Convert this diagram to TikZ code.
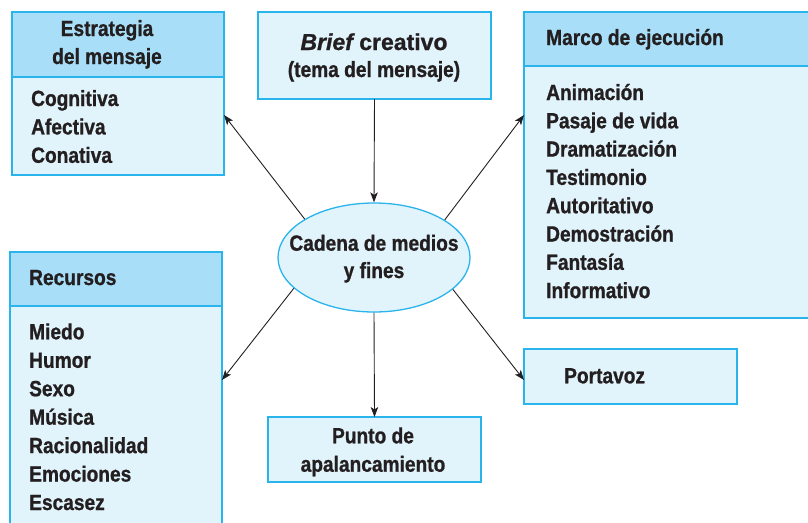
\documentclass[tikz,border=0pt]{standalone}
\usepackage{fontspec}
\setmainfont{Liberation Sans}[FakeStretch=0.87, BoldFeatures={FakeBold=0.9}, BoldItalicFeatures={FakeBold=0.9}]
\newfontfamily\widefont{Liberation Sans}[BoldFeatures={FakeBold=0.9}, BoldItalicFeatures={FakeBold=0.9}]
\usetikzlibrary{arrows.meta,shapes.geometric}
\definecolor{bord}{HTML}{2AB4EC}
\definecolor{headf}{HTML}{A8DEF8}
\definecolor{bodyf}{HTML}{E1F3FB}
\definecolor{ink}{HTML}{231F20}
\tikzset{
 panel/.style={draw=bord, line width=1.3pt, fill=bodyf, anchor=north west, inner sep=0pt, outer sep=0pt},
 headpanel/.style={panel, fill=headf},
 lbl/.style={text=ink, inner sep=0pt, anchor=base west},
 clbl/.style={text=ink, inner sep=0pt, anchor=base},
 conn/.style={draw=ink, line width=0.9pt, -{Stealth[length=10pt,width=7.5pt,inset=2.5pt]}},
}
\begin{document}
\begin{tikzpicture}[x=1pt,y=-1pt, font=\bfseries\fontsize{22}{24}\selectfont]
\useasboundingbox (0,0) rectangle (808,522);
% Estrategia
\node[panel, minimum width=212pt, minimum height=98pt] (estrb) at (12,77) {};
\node[headpanel, minimum width=212pt, minimum height=65pt] (estrh) at (12,12) {};
\node[clbl] (e1) at (107,36) {Estrategia};
\node[clbl] (e2) at (107,64) {del mensaje};
\foreach \t [count=\i] in {Cognitiva,Afectiva,Conativa}
  \node[lbl] (ei\i) at (31,{106+28.4*(\i-1)}) {\t};
% Brief
\node[panel, minimum width=233pt, minimum height=87pt] (brief) at (258,12) {};
\node[clbl, font=\widefont\bfseries\fontsize{23}{24}\selectfont] (b1) at (374,50) {{\itshape Brief} creativo};
\node[clbl] (b2) at (374,77) {(tema del mensaje)};
% Marco
\node[panel, minimum width=290pt, minimum height=252pt] (marcob) at (524,66) {};
\node[headpanel, minimum width=290pt, minimum height=54pt] (marcoh) at (524,12) {};
\node[lbl] (m0) at (546,45) {Marco de ejecución};
\foreach \t [count=\i] in {Animación,Pasaje de vida,Dramatización,Testimonio,Autoritativo,Demostración,Fantasía,Informativo}
  \node[lbl] (mi\i) at (546,{100+28.3*(\i-1)}) {\t};
% Recursos
\node[panel, minimum width=212pt, minimum height=230pt] (recb) at (10,306) {};
\node[headpanel, minimum width=212pt, minimum height=54pt] (rech) at (10,252) {};
\node[lbl] (r0) at (29,285) {Recursos};
\foreach \t [count=\i] in {Miedo,Humor,Sexo,Música,Racionalidad,Emociones,Escasez}
  \node[lbl] (ri\i) at (29,{339.3+28.45*(\i-1)}) {\t};
% Portavoz
\node[panel, minimum width=213pt, minimum height=55pt] (port) at (524,349) {};
\node[lbl] (p0) at (564,383.3) {Portavoz};
% Punto
\node[panel, minimum width=213pt, minimum height=65pt] (punto) at (268,417) {};
\node[clbl] (u1) at (373,443.3) {Punto de};
\node[clbl] (u2) at (373,471.7) {apalancamiento};
% Centre
\node[ellipse, draw=bord, line width=1.3pt, fill=bodyf, minimum width=192pt, minimum height=109pt, inner sep=0pt] (cad) at (374,257.5) {};
\node[clbl] (c1) at (374,250.7) {Cadena de medios};
\node[clbl] (c2) at (374,278) {y fines};
% Connectors
\draw[conn] (brief.south) -- (cad.north);
\draw[conn] (cad.151) -- (estrb.east |- 0,115);
\draw[conn] (cad.28) -- (marcob.west |- 0,115);
\draw[conn] (cad.201) -- (recb.east |- 0,380);
\draw[conn] (cad.338) -- (port.west |- 0,380);
\draw[conn] (cad.south) -- (punto.north);
\end{tikzpicture}
\end{document}
